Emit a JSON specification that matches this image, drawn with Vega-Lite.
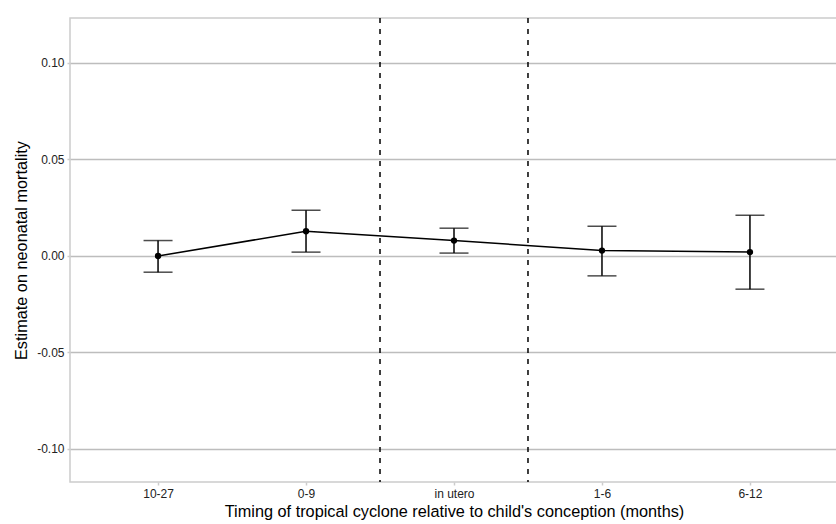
{
  "$schema": "https://vega.github.io/schema/vega-lite/v6.json",
  "autosize": "none",
  "padding": {"left": 70, "top": 18, "right": 0, "bottom": 42},
  "width": 768,
  "height": 464,
  "background": "white",
  "config": {
    "font": "Liberation Sans",
    "view": {"stroke": "#cccccc", "strokeWidth": 1.5}
  },
  "datasets": {
    "est": [
      {"pos": 1, "timing": "10-27", "estimate": 0.0000, "lower": -0.0084, "upper": 0.0080},
      {"pos": 2, "timing": "0-9", "estimate": 0.0128, "lower": 0.0020, "upper": 0.0237},
      {"pos": 3, "timing": "in utero", "estimate": 0.0080, "lower": 0.0015, "upper": 0.0144},
      {"pos": 4, "timing": "1-6", "estimate": 0.0028, "lower": -0.0103, "upper": 0.0154},
      {"pos": 5, "timing": "6-12", "estimate": 0.0020, "lower": -0.0172, "upper": 0.0211}
    ],
    "cuts": [{"cut": 2.5}, {"cut": 3.5}]
  },
  "layer": [
    {
      "data": {"name": "cuts"},
      "mark": {"type": "rule", "color": "black", "strokeWidth": 1.5, "strokeDash": [5, 6]},
      "encoding": {
        "x": {"field": "cut", "type": "quantitative", "scale": {"domain": [0.405, 5.595], "nice": false, "zero": false}}
      }
    },
    {
      "data": {"name": "est"},
      "mark": {"type": "rule", "color": "black", "strokeWidth": 1.5},
      "encoding": {
        "x": {"field": "pos", "type": "quantitative"},
        "y": {"field": "lower", "type": "quantitative"},
        "y2": {"field": "upper"}
      }
    },
    {
      "data": {"name": "est"},
      "mark": {"type": "tick", "orient": "horizontal", "color": "black", "thickness": 1.5, "size": 29},
      "encoding": {
        "x": {"field": "pos", "type": "quantitative"},
        "y": {"field": "lower", "type": "quantitative"}
      }
    },
    {
      "data": {"name": "est"},
      "mark": {"type": "tick", "orient": "horizontal", "color": "black", "thickness": 1.5, "size": 29},
      "encoding": {
        "x": {"field": "pos", "type": "quantitative"},
        "y": {"field": "upper", "type": "quantitative"}
      }
    },
    {
      "data": {"name": "est"},
      "mark": {"type": "line", "color": "black", "strokeWidth": 1.5},
      "encoding": {
        "x": {"field": "pos", "type": "quantitative"},
        "y": {"field": "estimate", "type": "quantitative"}
      }
    },
    {
      "data": {"name": "est"},
      "mark": {"type": "point", "filled": true, "color": "black", "opacity": 1, "size": 40},
      "encoding": {
        "x": {
          "field": "pos", "type": "quantitative",
          "scale": {"domain": [0.405, 5.595], "nice": false, "zero": false},
          "axis": {
            "values": [1, 2, 3, 4, 5],
            "labelExpr": "['','10-27','0-9','in utero','1-6','6-12'][datum.value]",
            "title": "Timing of tropical cyclone relative to child's conception (months)",
            "grid": false, "domain": false,
            "tickColor": "#cccccc", "tickSize": 3, "tickWidth": 1.5,
            "labelFont": "Liberation Sans", "labelFontSize": 12, "labelColor": "#222222", "labelPadding": 3,
            "titleFont": "Liberation Sans", "titleFontSize": 16.3, "titleFontWeight": "normal", "titleColor": "black", "titlePadding": 4
          }
        },
        "y": {
          "field": "estimate", "type": "quantitative",
          "scale": {"domain": [-0.1171, 0.1233], "nice": false, "zero": false},
          "axis": {
            "values": [-0.1, -0.05, 0, 0.05, 0.1],
            "labelExpr": "replace(format(datum.value, '.2f'), '\u2212', '-')",
            "title": "Estimate on neonatal mortality",
            "grid": true, "gridColor": "#bdbdbd", "gridWidth": 1.5,
            "domain": false,
            "tickColor": "#cccccc", "tickSize": 3, "tickWidth": 1.5,
            "labelFont": "Liberation Sans", "labelFontSize": 12, "labelColor": "#222222", "labelPadding": 3,
            "titleFont": "Liberation Sans", "titleFontSize": 16.3, "titleFontWeight": "normal", "titleColor": "black", "titlePadding": 7
          }
        }
      }
    }
  ]
}
